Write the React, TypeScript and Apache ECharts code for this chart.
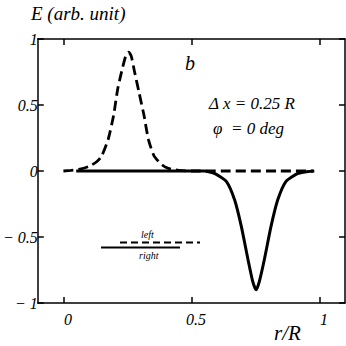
import React, { useEffect, useRef } from "react";
import * as echarts from "echarts";

const xTicks = [0, 0.5, 1];
const yTicks = [-1, -0.5, 0, 0.5, 1];

// "left" (dashed) curve: [r/R, E]
const leftX = [0, 0.03, 0.06, 0.1, 0.13, 0.15, 0.175, 0.196, 0.212, 0.232, 0.245, 0.255, 0.265, 0.277, 0.296, 0.315, 0.332, 0.354, 0.386, 0.41, 0.45, 0.5, 0.975];
const leftE = [0, 0.004, 0.012, 0.035, 0.07, 0.115, 0.24, 0.42, 0.62, 0.79, 0.88, 0.9, 0.87, 0.76, 0.59, 0.42, 0.24, 0.115, 0.045, 0.02, 0.005, 0, 0];

// "right" (solid) curve
const rightX = [0.05, 0.55, 0.592, 0.637, 0.669, 0.695, 0.721, 0.74, 0.753, 0.765, 0.785, 0.811, 0.837, 0.869, 0.914, 0.95, 0.98];
const rightE = [0, 0, -0.02, -0.08, -0.22, -0.42, -0.67, -0.84, -0.9, -0.84, -0.67, -0.42, -0.22, -0.08, -0.02, -0.005, 0];

const FONT = "Liberation Serif";

export default function App() {
  const ref = useRef<HTMLDivElement>(null);
  useEffect(() => {
    if (!ref.current) return;
    const chart = echarts.init(ref.current, undefined, { renderer: "svg" });
    const axisLine = { show: true, onZero: false, lineStyle: { color: "#000", width: 1.5 } };
    const tick = { show: true, inside: true, length: 6, lineStyle: { color: "#000", width: 1.5 } };
    const t = (text: string, x: number, y: number, size: number) => ({
      type: "text", x, y,
      style: { text, fontFamily: FONT, fontStyle: "italic", fontSize: size, fill: "#000", verticalAlign: "top" },
    });
    chart.setOption({
      animation: false,
      backgroundColor: "#fff",
      grid: { left: 35, right: 1, top: 39, bottom: 43 },
      xAxis: [
        {
          type: "value", min: -0.1, max: 1.1, position: "bottom",
          axisLine,
          axisTick: { ...tick, customValues: xTicks },
          axisLabel: { color: "#000", fontFamily: FONT, fontStyle: "italic", fontSize: 16, margin: 8, padding: [0, 0, 0, 9], customValues: xTicks, formatter: (v: number) => String(v) },
          splitLine: { show: false },
        },
        {
          type: "value", min: -0.1, max: 1.1, position: "top",
          axisLine,
          axisTick: { ...tick, customValues: xTicks },
          axisLabel: { show: false },
          splitLine: { show: false },
        },
      ],
      yAxis: [
        {
          type: "value", min: -1, max: 1, interval: 0.5, position: "left",
          axisLine,
          axisTick: tick,
          axisLabel: { color: "#000", fontFamily: FONT, fontStyle: "italic", fontSize: 16, margin: 0, formatter: (v: number) => (v < 0 ? "\u2212 " + String(Math.abs(v)) : String(v)) },
          splitLine: { show: false },
        },
        {
          type: "value", min: -1, max: 1, interval: 0.5, position: "right",
          axisLine,
          axisTick: tick,
          axisLabel: { show: false },
          splitLine: { show: false },
        },
      ],
      series: [
        {
          name: "left", type: "line", xAxisIndex: 0, yAxisIndex: 0, showSymbol: false, smooth: 0.2,
          data: leftX.map((x, i) => [x, leftE[i]]),
          lineStyle: { color: "#000", width: 2.8, type: [10, 5] },
        },
        {
          name: "right", type: "line", xAxisIndex: 0, yAxisIndex: 0, showSymbol: false, smooth: 0.2,
          data: rightX.map((x, i) => [x, rightE[i]]),
          lineStyle: { color: "#000", width: 3 },
        },
      ],
      graphic: [
        t("E (arb. unit)", 31, 4, 19),
        t("r/R", 274, 322, 21),
        t("b", 185, 53, 20),
        t("\u0394 x = 0.25 R", 209, 95, 17),
        t("\u03C6  = 0 deg", 213, 120, 17),
        t("left", 141, 229, 10),
        { type: "line", shape: { x1: 120, y1: 242.5, x2: 200, y2: 242.5 }, style: { stroke: "#000", lineWidth: 2, lineDash: [7, 4] } },
        { type: "line", shape: { x1: 101, y1: 247.5, x2: 180, y2: 247.5 }, style: { stroke: "#000", lineWidth: 2 } },
        t("right", 139, 250, 10),
      ],
    });
    return () => chart.dispose();
  }, []);
  return <div ref={ref} style={{ position: "fixed", left: 0, top: 0, width: 346, height: 346 }} />;
}
